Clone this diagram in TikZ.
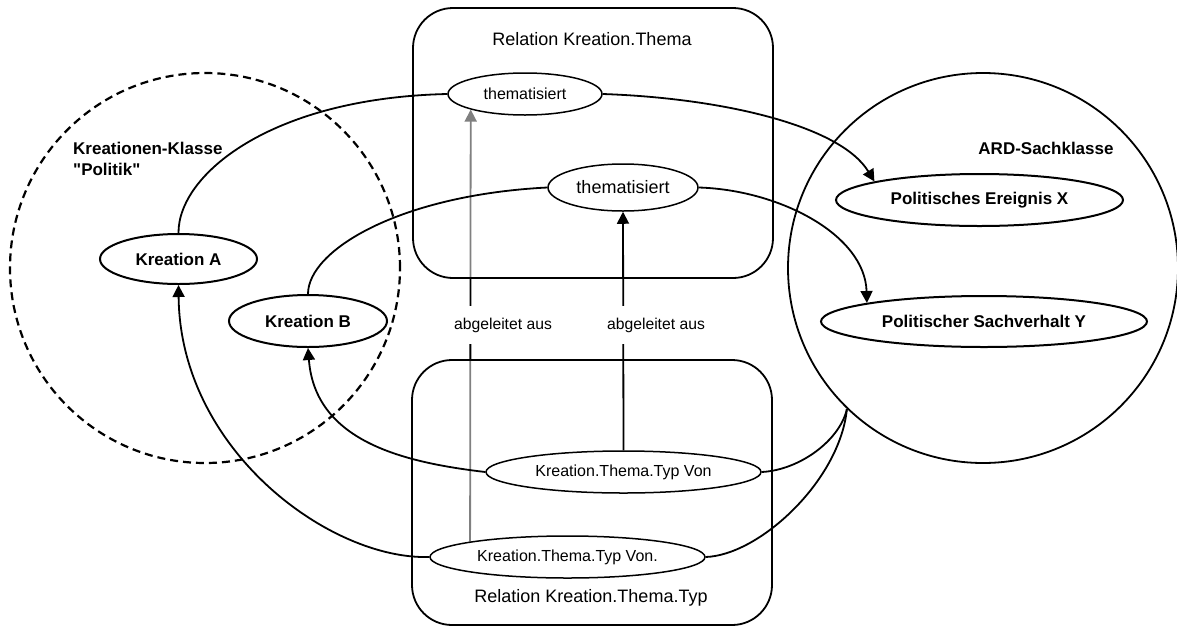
\documentclass[tikz,border=0pt]{standalone}
\usepackage{fontspec}
\setmainfont{Liberation Sans}[Ligatures=TeXOff]
\usetikzlibrary{shapes.geometric,arrows.meta}
\pgfdeclarelayer{bg}
\pgfdeclarelayer{mid}
\pgfsetlayers{bg,mid,main}
\begin{document}
\begin{tikzpicture}[x=1pt,y=-1pt,
  ell/.style={ellipse, draw, line width=1.5pt, inner sep=0pt, fill=white},
  bell/.style={ell, line width=2pt, font=\fontsize{17}{20}\selectfont\bfseries},
  conn/.style={line width=1.8pt},
  arr/.style={conn, -{Triangle[length=12pt,width=12pt]}},
  relbox/.style={draw, line width=1.8pt, rounded corners=40pt, fill=white, fill opacity=0.5},
  title/.style={font=\fontsize{18}{21}\selectfont, inner sep=0pt},
  lab/.style={fill=white, font=\fontsize{15.7}{18}\selectfont, minimum height=38pt, inner xsep=1pt},
  cls/.style={circle, draw, inner sep=0pt, minimum size=390pt}
]
\useasboundingbox (0,0) rectangle (1177,627);

% class circles
\node[cls, dashed, line width=2.2pt, dash pattern=on 8pt off 5pt] (KK) at (205,268) {};
\node[cls, line width=1.8pt] (ARD) at (983,268) {};

% ellipses
\node[ell, minimum width=154pt, minimum height=42pt, font=\fontsize{16}{18}\selectfont] (T1) at (525,94) {thematisiert};
\node[ell, minimum width=150pt, minimum height=47pt, font=\fontsize{18}{20}\selectfont] (T2) at (623,187.5) {thematisiert};
\node[ell, minimum width=275pt, minimum height=42pt, font=\fontsize{16}{18}\selectfont] (KTTV) at (623.5,472) {Kreation.Thema.Typ Von};
\node[ell, minimum width=275pt, minimum height=42pt, font=\fontsize{16}{18}\selectfont] (KTTV2) at (567.5,557) {Kreation.Thema.Typ Von.};
\node[bell, minimum width=157pt, minimum height=50pt] (KA) at (178.5,259) {Kreation A};
\node[bell, minimum width=158pt, minimum height=52pt] (KB) at (308,321) {Kreation B};
\node[bell, minimum width=287pt, minimum height=52pt] (PEX) at (979.5,200) {Politisches Ereignis X};
\node[bell, minimum width=326pt, minimum height=51pt] (PSY) at (984,321.5) {Politischer Sachverhalt Y};

% class labels
\node[anchor=west, align=left, inner sep=0pt, font=\fontsize{17}{21}\selectfont\bfseries] (KKL) at (73,158.5) {Kreationen-Klasse\\"Politik"};
\node[inner sep=0pt, font=\fontsize{17}{20}\selectfont\bfseries] (ARDL) at (1046,148) {ARD-Sachklasse};

% gray derived arrow (behind the boxes)
\begin{pgfonlayer}{bg}
\draw[arr] (KTTV2.171.2) -- (T1.-164.5);
\end{pgfonlayer}

% relation boxes
\begin{pgfonlayer}{mid}
\draw[relbox] (413,8) rectangle (773,278);
\draw[relbox] (412,360) rectangle (772,625);
\end{pgfonlayer}
\node[title] (TT) at (592,39) {Relation Kreation.Thema};
\node[title] (TB) at (591,598) {Relation Kreation.Thema.Typ};

% connectors
\coordinate (conv) at (ARD.-134.6);
\draw[conn] (KA.north) .. controls (178,175) and (270,98) .. (T1.west);
\draw[arr] (T1.east) .. controls (720,98) and (840,125) .. (PEX.170);
\draw[conn] (KB.north) .. controls (308,250) and (400,195) .. (T2.west);
\draw[arr] (T2.east) .. controls (780,190) and (865,235) .. (PSY.171);
\draw[arr] (KTTV.west) .. controls (400,462) and (315,440) .. (KB.south);
\draw[arr] (KTTV2.west) .. controls (330,560) and (180,450) .. (KA.south);
\draw[conn] (KTTV.east) .. controls (800,470) and (840,440) .. (conv);
\draw[conn] (KTTV2.east) .. controls (760,555) and (840,480) .. (conv);
\draw[arr] (KTTV.north) -- (T2.south);

% labels on derived arrows
\node[lab] (L1) at (503,325) {abgeleitet aus};
\node[lab] (L2) at (656,325) {abgeleitet aus};
\end{tikzpicture}
\end{document}
